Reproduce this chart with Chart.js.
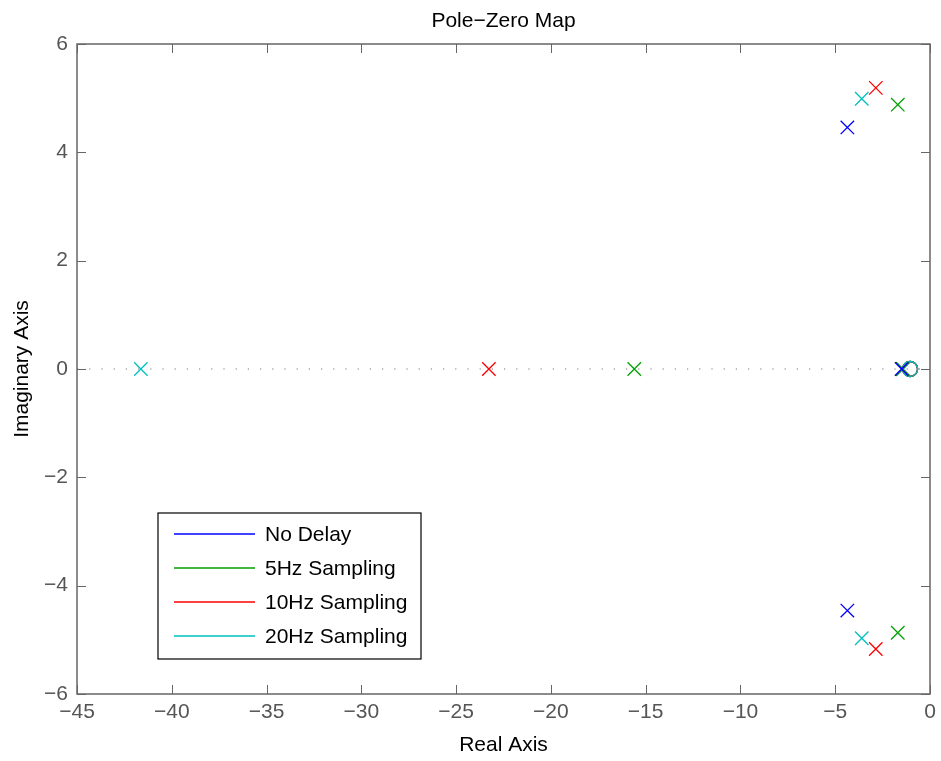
<!DOCTYPE html>
<html>
<head>
<meta charset="utf-8">
<script src="https://cdn.jsdelivr.net/npm/chart.js@4.4.1/dist/chart.umd.min.js"></script>
<style>
  html, body { margin: 0; padding: 0; background: #fff; }
  #wrap { width: 941px; height: 761px; }
</style>
</head>
<body>
<div id="wrap"><canvas id="pzChart" width="941" height="761"></canvas></div>
<script>
// series (one per sampling case)
const seriesNames = ['No Delay', '5Hz Sampling', '10Hz Sampling', '20Hz Sampling'];
const seriesColors = ['#0000ff', '#00a000', '#ff0000', '#00bfbf'];

// poles, real and imaginary parts
const poleRe = [
  [-4.36, -4.36, -1.5],
  [-1.70, -1.70, -15.6, -1.45],
  [-2.86, -2.86, -23.27, -1.45],
  [-3.60, -3.60, -41.63, -1.42]
];
const poleIm = [
  [4.46, -4.46, 0],
  [4.88, -4.87, 0, 0],
  [5.19, -5.17, 0, 0],
  [4.99, -4.97, 0, 0]
];

// zeros
const zeroRe = [[-1.05], [-1.05], [-1.05], [-1.05]];
const zeroIm = [[0], [0], [0], [0]];

// axes
const xTicks = [-45, -40, -35, -30, -25, -20, -15, -10, -5, 0];
const yTicks = [-6, -4, -2, 0, 2, 4, 6];

const toPts = (re, im) => re.map((r, i) => ({ x: r, y: im[i] }));
const fmt = v => v < 0 ? '\u2212' + Math.abs(v) : String(v);
const FONT = '"Liberation Sans", Arial, sans-serif';

const datasets = [];
seriesNames.forEach((name, i) => {
  datasets.push({
    label: name,
    data: toPts(poleRe[i], poleIm[i]),
    pointStyle: 'crossRot',
    pointRadius: 9.5,
    pointHoverRadius: 9.5,
    borderColor: seriesColors[i],
    backgroundColor: seriesColors[i],
    pointBorderWidth: 1.3,
    showLine: false
  });
});
// zeros: last series first so it ends up drawn on top
for (let i = seriesNames.length - 1; i >= 0; i--) {
  datasets.push({
    label: seriesNames[i] + ' zeros',
    data: toPts(zeroRe[i], zeroIm[i]),
    pointStyle: 'circle',
    pointRadius: 7.5,
    pointHoverRadius: 7.5,
    borderColor: seriesColors[i],
    backgroundColor: 'rgba(0,0,0,0)',
    pointBorderWidth: 1.3,
    showLine: false
  });
}
// dotted real axis line
datasets.push({
  label: 'axis',
  data: [{ x: xTicks[0], y: 0 }, { x: xTicks[xTicks.length - 1], y: 0 }],
  showLine: true,
  borderColor: '#777',
  borderWidth: 1.2,
  borderDash: [1.2, 11],
  pointRadius: 0
});

const axisColor = '#666';
const tickColor = '#555';

const frame = {
  id: 'frame',
  afterDatasetsDraw(chart) {
    const { ctx, chartArea: a, scales } = chart;
    ctx.save();
    ctx.strokeStyle = axisColor;
    ctx.lineWidth = 1.5;
    ctx.strokeRect(a.left, a.top, a.right - a.left, a.bottom - a.top);
    ctx.lineWidth = 1;
    const len = 9;
    ctx.beginPath();
    xTicks.forEach(v => {
      const px = Math.round(scales.x.getPixelForValue(v)) + 0.5;
      ctx.moveTo(px, a.bottom); ctx.lineTo(px, a.bottom - len);
      ctx.moveTo(px, a.top); ctx.lineTo(px, a.top + len);
    });
    yTicks.forEach(v => {
      const py = Math.round(scales.y.getPixelForValue(v)) + 0.5;
      ctx.moveTo(a.left, py); ctx.lineTo(a.left + len, py);
      ctx.moveTo(a.right, py); ctx.lineTo(a.right - len, py);
    });
    ctx.stroke();

    // title
    ctx.fillStyle = '#000';
    ctx.font = '21px ' + FONT;
    ctx.textAlign = 'center';
    ctx.textBaseline = 'alphabetic';
    ctx.fillText('Pole\u2212Zero Map', (a.left + a.right) / 2, 27);

    // legend box
    const bx = 158, by = 513, bw = 263, bh = 146;
    ctx.fillStyle = '#fff';
    ctx.fillRect(bx, by, bw, bh);
    ctx.strokeStyle = '#000';
    ctx.lineWidth = 1.2;
    ctx.strokeRect(bx, by, bw, bh);
    ctx.textAlign = 'left';
    ctx.textBaseline = 'middle';
    seriesNames.forEach((name, i) => {
      const ry = by + 21 + i * 34;
      ctx.strokeStyle = seriesColors[i];
      ctx.lineWidth = 1.3;
      ctx.beginPath();
      ctx.moveTo(bx + 16, ry); ctx.lineTo(bx + 97, ry);
      ctx.stroke();
      ctx.fillStyle = '#000';
      ctx.fillText(name, bx + 107, ry + 1);
    });
    ctx.restore();
  }
};

new Chart(document.getElementById('pzChart'), {
  type: 'scatter',
  data: { datasets },
  options: {
    responsive: false,
    animation: false,
    layout: { padding: { top: 44, right: 0, left: 0, bottom: 0 } },
    plugins: {
      legend: { display: false },
      title: { display: false },
      tooltip: { enabled: false }
    },
    scales: {
      x: {
        type: 'linear',
        min: -45,
        max: 0,
        afterFit: s => { s.height = 67; s.paddingLeft = 0; s.paddingRight = 11; },
        afterBuildTicks: s => { s.ticks = xTicks.map(v => ({ value: v })); },
        grid: { display: false, drawTicks: false },
        border: { display: false },
        ticks: {
          callback: fmt,
          color: tickColor,
          padding: 6,
          maxRotation: 0,
          autoSkip: false,
          font: { family: FONT, size: 21 }
        },
        title: {
          display: true,
          text: 'Real Axis',
          color: '#000',
          padding: { top: 0, bottom: 3 },
          font: { family: FONT, size: 21 }
        }
      },
      y: {
        type: 'linear',
        min: -6,
        max: 6,
        afterFit: s => { s.width = 77; s.paddingTop = 0; s.paddingBottom = 0; },
        afterBuildTicks: s => { s.ticks = yTicks.map(v => ({ value: v })); },
        grid: { display: false, drawTicks: false },
        border: { display: false },
        ticks: {
          callback: fmt,
          color: tickColor,
          padding: 9,
          autoSkip: false,
          font: { family: FONT, size: 21 }
        },
        title: {
          display: true,
          text: 'Imaginary Axis',
          color: '#000',
          padding: { top: 10, bottom: 0 },
          font: { family: FONT, size: 21 }
        }
      }
    }
  },
  plugins: [frame]
});
</script>
</body>
</html>
